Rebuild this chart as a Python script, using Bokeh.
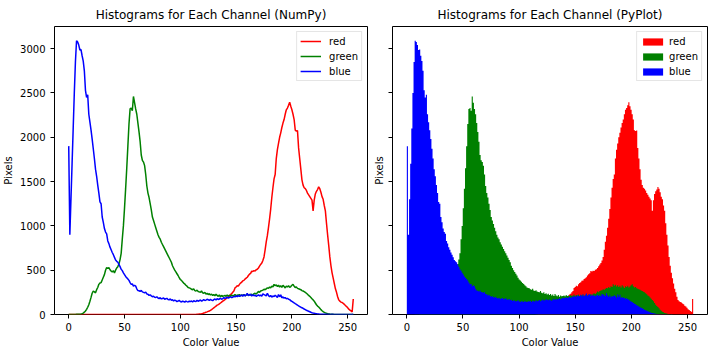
import numpy as np
from bokeh.plotting import figure
from bokeh.models import Range1d, FixedTicker
from bokeh.layouts import row
from bokeh.embed import file_html
from bokeh.resources import INLINE

# ---------------- data (pixel counts per color value 0..255) ----------------
color_values = list(range(256))

red = (
    [0] * 112 +
    [0, 0, 0, 2, 3, 5, 7, 9, 12, 16, 20, 26, 30, 36, 40, 46] +
    [55, 65, 75, 85, 95, 105, 112, 120, 130, 140, 150, 158, 168, 178, 190, 200] +
    [212, 225, 235, 250, 265, 300, 310, 325, 320, 340, 355, 365, 380, 385, 400, 410] +
    [420, 440, 455, 465, 490, 485, 495, 490, 505, 510, 525, 545, 565, 580, 610, 650] +
    [730, 820, 890, 980, 1080, 1190, 1320, 1430, 1530, 1580, 1760, 1860, 1930, 2000, 2050, 2110] +
    [2160, 2200, 2260, 2310, 2330, 2360, 2395, 2350, 2310, 2260, 2200, 2080, 2070, 2075, 1880, 1760] +
    [1640, 1520, 1460, 1430, 1420, 1400, 1370, 1350, 1330, 1310, 1290, 1170, 1290, 1360, 1390, 1410] +
    [1440, 1420, 1380, 1330, 1300, 1230, 1170, 1030, 900, 780, 650, 550, 470, 410, 350, 290] +
    [250, 200, 165, 150, 140, 135, 125, 115, 100, 90, 75, 60, 50, 40, 30, 175]
)

green = [
    0, 0, 0, 0, 0, 1, 1, 2, 2, 3, 4, 6, 10, 16, 26, 40,
    58, 82, 110, 150, 193, 240, 265, 255, 245, 280, 305, 340, 355, 360, 390, 420,
    450, 500, 530, 520, 528, 505, 490, 480, 495, 470, 500, 525, 540, 570, 620, 690,
    850, 1000, 1200, 1420, 1650, 1900, 2150, 2320, 2330, 2300, 2460, 2390, 2320, 2260, 2160, 2060,
    1950, 1800, 1740, 1720, 1680, 1580, 1450, 1370, 1320, 1250, 1180, 1100, 1060, 1020, 980, 940,
    900, 870, 850, 815, 790, 765, 740, 715, 690, 665, 640, 615, 590, 550, 525, 500,
    480, 460, 440, 415, 395, 385, 370, 355, 345, 330, 320, 305, 300, 295, 285, 280,
    290, 270, 265, 275, 260, 255, 250, 265, 245, 240, 250, 230, 240, 225, 235, 220,
    230, 215, 225, 210, 230, 215, 205, 220, 200, 215, 205, 210, 215, 205, 220, 210,
    215, 205, 220, 210, 215, 225, 210, 220, 215, 225, 210, 220, 215, 225, 210, 220,
    230, 215, 225, 220, 230, 215, 235, 240, 230, 245, 260, 250, 265, 270, 275, 285,
    280, 290, 300, 295, 310, 300, 320, 310, 340, 325, 335, 315, 330, 310, 325, 305,
    330, 315, 300, 320, 310, 325, 305, 315, 330, 340, 320, 305, 310, 295, 290, 285,
    280, 270, 265, 258, 250, 240, 228, 215, 205, 192, 178, 165, 150, 130, 110, 95,
    85, 70, 55, 42, 32, 25, 18, 13, 10, 7, 5, 4, 3, 2, 1, 1,
    1, 0, 1, 0, 0, 1, 0, 0, 0, 1, 0, 0, 0, 0, 0, 0,
]

blue = [
    1900, 900, 1300, 1700, 2100, 2500, 2850, 3090, 3075, 3040, 2985, 2990, 2920, 2860, 2750, 2530,
    2450, 2480, 2260, 2170, 2080, 1980, 1870, 1760, 1640, 1560, 1460, 1370, 1270, 1250, 1100, 1040,
    970, 930, 910, 830, 800, 760, 730, 700, 675, 645, 615, 600, 590, 565, 540, 510,
    495, 470, 450, 430, 415, 400, 385, 360, 340, 345, 320, 330, 320, 290, 270, 268,
    260, 272, 255, 250, 245, 252, 232, 228, 215, 222, 210, 200, 206, 195, 192, 200,
    186, 180, 190, 176, 181, 186, 172, 177, 182, 170, 166, 176, 160, 167, 152, 162,
    156, 146, 152, 160, 146, 142, 150, 146, 140, 151, 145, 141, 150, 146, 152, 141,
    155, 150, 146, 160, 150, 155, 165, 150, 158, 168, 158, 162, 172, 166, 160, 170,
    162, 156, 168, 175, 165, 178, 170, 174, 184, 172, 180, 190, 182, 186, 196, 185,
    192, 200, 190, 195, 205, 198, 212, 200, 215, 205, 210, 222, 205, 225, 210, 218,
    238, 212, 222, 228, 208, 222, 212, 218, 205, 214, 222, 210, 220, 206, 232, 225,
    218, 210, 240, 215, 200, 216, 195, 210, 202, 218, 206, 192, 226, 200, 222, 188,
    198, 185, 190, 178, 182, 172, 168, 155, 148, 140, 130, 122, 115, 105, 98, 90,
    82, 76, 70, 62, 55, 48, 42, 37, 31, 25, 20, 16, 13, 10, 8, 6,
    5, 4, 4, 3, 3, 2, 2, 2, 1, 2, 1, 1, 2, 1, 1, 1,
    1, 1, 0, 1, 1, 0, 1, 1, 0, 1, 0, 1, 1, 0, 1, 3,
]

channel_names = ["red", "green", "blue"]
channel_colors = ["#ff0000", "#008000", "#0000ff"]
channel_data = [red, green, blue]

x_ticks = [0, 50, 100, 150, 200, 250]
y_ticks = [0, 500, 1000, 1500, 2000, 2500, 3000]
titles = ["Histograms for Each Channel (NumPy)", "Histograms for Each Channel (PyPlot)"]
x_label = "Color Value"
y_label = "Pixels"

FONT = "DejaVu Sans"


def style(p, legend_kind):
    p.title.text_font = FONT
    p.title.text_font_size = "12px"
    p.title.text_font_style = "normal"
    p.title.text_color = "black"
    p.title.align = "center"
    p.outline_line_color = "black"
    p.outline_line_width = 1
    p.xgrid.visible = False
    p.ygrid.visible = False
    p.background_fill_color = "white"
    p.border_fill_color = "white"
    for ax in list(p.xaxis) + list(p.yaxis):
        ax.axis_line_color = None
        ax.major_tick_line_color = "black"
        ax.major_tick_line_width = 1
        ax.major_tick_out = 4
        ax.major_tick_in = 0
        ax.minor_tick_line_color = None
        ax.major_label_text_font = FONT
        ax.major_label_text_font_size = "10px"
        ax.major_label_text_color = "black"
        ax.axis_label_text_font = FONT
        ax.axis_label_text_font_size = "10px"
        ax.axis_label_text_font_style = "normal"
        ax.axis_label_text_color = "black"
    p.xaxis.ticker = FixedTicker(ticks=x_ticks)
    p.yaxis.ticker = FixedTicker(ticks=y_ticks)
    p.xaxis.major_label_standoff = 4
    p.xaxis.axis_label_standoff = 3
    lg = p.legend[0]
    lg.location = "top_right"
    lg.margin = 5
    lg.padding = 3
    lg.spacing = 3
    lg.label_height = 12
    lg.label_text_font = FONT
    lg.label_text_font_size = "10px"
    lg.label_text_color = "black"
    lg.border_line_color = "#cccccc"
    lg.border_line_width = 1
    lg.background_fill_color = "white"
    lg.background_fill_alpha = 0.8
    if legend_kind == "line":
        lg.glyph_width = 21
        lg.glyph_height = 12
        lg.label_standoff = 8
    else:
        lg.glyph_width = 25
        lg.glyph_height = 9
        lg.label_standoff = 4


y_range = Range1d(0, 3250)

# ---------------- left: line histograms ----------------
p1 = figure(width=368, height=352, title=titles[0],
            x_range=Range1d(-12.75, 267.75), y_range=y_range,
            x_axis_label=x_label, y_axis_label=y_label,
            output_backend="svg", toolbar_location=None,
            min_border_left=53, min_border_right=1,
            min_border_top=23, min_border_bottom=38)
for name, col, vals in zip(channel_names, channel_colors, channel_data):
    p1.line(color_values, vals, line_color=col, line_width=1.5, legend_label=name)
style(p1, "line")
p1.yaxis.major_label_standoff = 5
p1.yaxis.axis_label_standoff = 3

# ---------------- right: filled step histograms ----------------
edges = np.linspace(0, 255, len(color_values) + 1)
p2 = figure(width=344, height=352, title=titles[1],
            x_range=Range1d(-12.75, 267.75), y_range=y_range,
            x_axis_label=x_label, y_axis_label=y_label,
            output_backend="svg", toolbar_location=None,
            min_border_left=24, min_border_right=5,
            min_border_top=23, min_border_bottom=38)
for name, col, vals in zip(channel_names, channel_colors, channel_data):
    tops = list(vals) + [vals[-1]]
    p2.varea_step(x=edges, y1=0, y2=tops, step_mode="after",
                  fill_color=col, legend_label=name)
style(p2, "area")
# shared y axis: tick marks only, no tick labels
p2.yaxis.major_label_overrides = {t: "" for t in y_ticks}
p2.yaxis.major_label_standoff = 0
p2.yaxis.axis_label_standoff = 4

layout = row(p1, p2)
open("out.html", "w").write(file_html(layout, INLINE))
